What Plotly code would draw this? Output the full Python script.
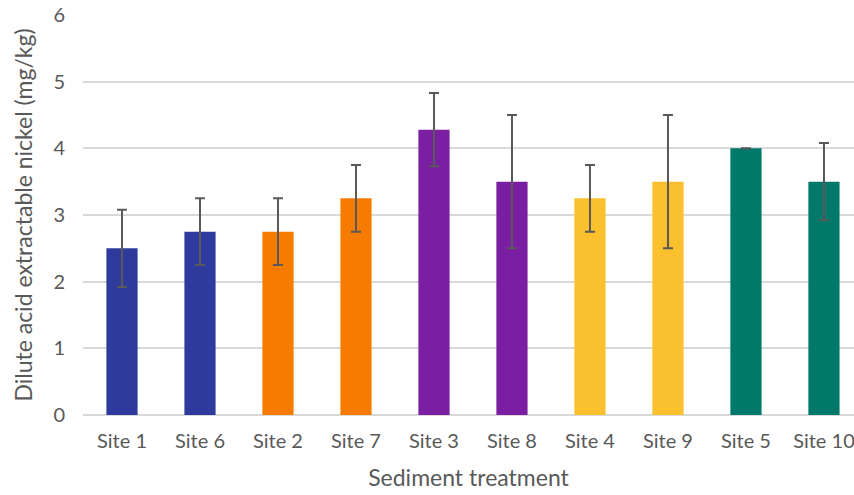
import plotly.graph_objects as go

sites = ["Site 1", "Site 6", "Site 2", "Site 7", "Site 3", "Site 8", "Site 4", "Site 9", "Site 5", "Site 10"]
values = [2.5, 2.75, 2.75, 3.25, 4.28, 3.5, 3.25, 3.5, 4.0, 3.5]
errors = [0.58, 0.5, 0.5, 0.5, 0.55, 1.0, 0.5, 1.0, 0.0, 0.58]
colors = ["#2E3B9C", "#2E3B9C", "#F57C00", "#F57C00", "#7B1FA2", "#7B1FA2",
          "#FBC02D", "#FBC02D", "#00796B", "#00796B"]

font_family = "Lato, Open Sans, sans-serif"

fig = go.Figure(go.Bar(
    x=sites, y=values,
    marker=dict(color=colors, line=dict(width=0)),
    error_y=dict(type="data", array=errors, visible=True, color="#595959", thickness=2, width=5),
    width=0.4,
))

fig.update_layout(
    width=854, height=495,
    margin=dict(l=83, r=0, t=15, b=80),
    plot_bgcolor="white", paper_bgcolor="white",
    showlegend=False,
    font=dict(family=font_family, color="#595959", size=20),
    xaxis=dict(
        range=[-0.5, 9.385],
        title=dict(text="Sediment treatment", font=dict(size=23, color="#595959"), standoff=18),
        tickfont=dict(size=20, color="#595959"),
        ticks="outside", ticklen=8, tickcolor="rgba(0,0,0,0)",
        showgrid=False, showline=False, zeroline=False,
    ),
    yaxis=dict(
        range=[0, 6], dtick=1,
        title=dict(text="Dilute acid extractable nickel (mg/kg)", font=dict(size=23, color="#595959"), standoff=14),
        tickfont=dict(size=20, color="#595959"),
        ticks="outside", ticklen=13, tickcolor="rgba(0,0,0,0)",
        showgrid=True, gridcolor="#D9D9D9", gridwidth=1.5,
        zeroline=True, zerolinecolor="#D9D9D9", zerolinewidth=1.5,
        showline=False,
    ),
)

fig.write_html(
    "out.html",
    config={"displayModeBar": False},
    post_script="document.body.style.margin='0px';document.body.style.overflow='hidden';",
)
